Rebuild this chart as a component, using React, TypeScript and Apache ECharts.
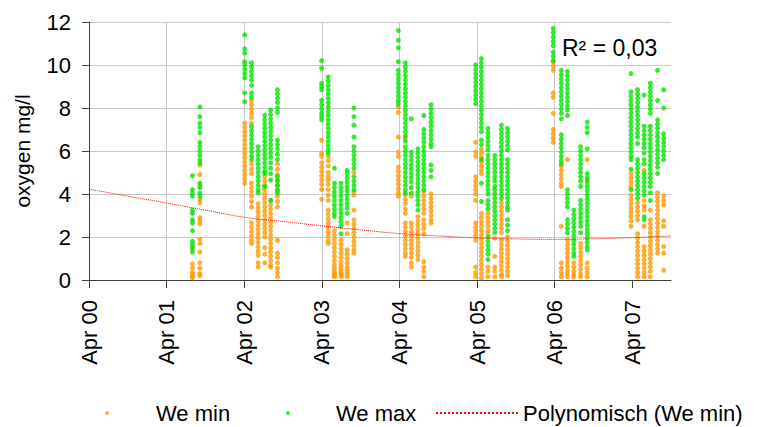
import React, { useEffect, useRef } from 'react';
import * as echarts from 'echarts';

const FONT = '"Liberation Sans", Arial, Helvetica, sans-serif';

const xTickLabels = ['Apr 00', 'Apr 01', 'Apr 02', 'Apr 03', 'Apr 04', 'Apr 05', 'Apr 06', 'Apr 07'];
const axisStartDate = '2000-04-01';
const axisEndYears = 7.5;

// sampling dates (one vertical column of measurements each)
const columnDates = [
  '2001-08-01', '2001-09-05',
  '2002-04-04', '2002-05-06', '2002-06-06', '2002-07-07', '2002-08-04', '2002-09-05',
  '2003-04-01', '2003-05-02', '2003-05-31', '2003-07-01', '2003-07-30', '2003-08-31',
  '2004-03-27', '2004-04-29', '2004-05-27', '2004-06-27', '2004-07-25', '2004-08-28',
  '2005-03-26', '2005-04-22', '2005-05-23', '2005-06-24', '2005-07-25', '2005-08-23',
  '2006-03-26', '2006-05-03', '2006-06-01', '2006-07-01', '2006-08-02', '2006-09-02',
  '2007-03-27', '2007-04-27', '2007-05-28', '2007-06-26', '2007-07-30', '2007-08-28',
];

const weMinValues = [
  [1.45, 0.75, 0.55, 0.35, 0.25, 0.15, 0.1],
  [5.35, 4.9, 4.4, 3.75, 3.6, 2.9, 2.75, 2.6, 1.9, 1.7, 1.3, 0.8, 0.55, 0.3, 0.2],
  [7.3, 7.1, 6.9, 6.7, 6.5, 6.3, 6.1, 5.9, 5.7, 5.5, 5.3, 5.1, 4.9, 4.7, 4.5],
  [8.35, 8.15, 7.95, 7.75, 7.55, 7.3, 5.4, 5.15, 4.95, 4.5, 4.3, 4.1, 3.9, 3.65, 3.4, 2.65, 2.45, 2.25, 2.05, 1.85, 1.7],
  [3.55, 3.35, 3.15, 2.95, 2.75, 2.55, 2.35, 2.15, 1.95, 1.75, 1.55, 1.35, 1.15, 0.8, 0.6],
  [4.8, 4.6, 4.4, 4.2, 4.0, 3.8, 3.6, 3.4, 3.2, 3.0, 2.8, 2.6, 2.4, 2.2, 2.0, 1.5, 1.2, 0.8],
  [3.7, 3.5, 3.3, 3.1, 2.9, 2.7, 2.5, 2.3, 2.1, 1.9, 1.7, 1.5, 1.3, 1.1, 0.9, 0.7, 0.6],
  [5.4, 5.15, 4.9, 4.65, 4.4, 4.15, 3.9, 3.65, 3.4, 1.85, 1.25, 1.05, 0.8, 0.55, 0.35, 0.15],
  [6.5, 5.9, 5.75, 5.45, 5.25, 5.05, 4.85, 4.65, 4.45, 4.2, 3.75],
  [5.75, 5.55, 5.3, 5.0, 4.8, 4.65, 4.45, 4.2, 3.95, 3.7, 3.25, 3.05, 2.85, 2.65, 2.45, 2.25, 2.05, 1.85, 1.7],
  [2.3, 2.1, 1.9, 1.7, 1.5, 1.3, 1.1, 0.9, 0.7, 0.55, 0.4, 0.3, 0.2, 0.15],
  [1.85, 1.65, 1.45, 1.25, 1.05, 0.85, 0.65, 0.5, 0.35, 0.25, 0.15],
  [2.65, 2.15, 1.4, 1.2, 1.0, 0.8, 0.6, 0.45, 0.3, 0.15],
  [5.0, 4.1, 3.95, 3.25, 2.8, 2.6, 2.4, 2.2, 2.0, 1.8, 1.6, 1.4, 1.25],
  [8.05, 7.8, 6.65, 5.95, 5.75, 5.25, 5.05, 4.85, 4.65, 4.45, 4.25, 4.05, 3.9],
  [6.6, 3.95, 3.75, 3.55, 3.3, 3.1, 2.65, 2.45, 2.25, 2.05, 1.85, 1.65, 1.45, 1.25, 1.1],
  [3.9, 2.65, 2.45, 2.25, 2.05, 1.85, 1.65, 1.45, 1.25, 1.05, 0.8, 0.6],
  [2.95, 2.75, 2.55, 2.35, 2.15, 1.95, 1.75, 1.55, 1.35, 1.15, 0.95],
  [4.1, 3.9, 3.7, 3.5, 3.3, 3.1, 2.8, 2.6, 2.4, 2.15, 0.85, 0.6, 0.4, 0.15],
  [4.0, 3.8, 3.6, 3.4, 3.2, 3.0, 2.8, 2.65],
  [6.4, 5.95, 5.75, 4.8, 4.6, 4.4, 4.2, 4.0, 3.7, 2.65, 2.45, 2.25, 2.05, 1.85, 0.6, 0.35, 0.15],
  [6.1, 5.9, 5.7, 5.5, 5.3, 5.1, 4.95, 3.1, 2.9, 2.7, 2.5, 2.3, 2.1, 1.9, 1.7, 1.5, 1.3, 1.1, 0.9, 0.7, 0.5, 0.3, 0.1],
  [3.1, 2.9, 2.7, 2.5, 2.3, 2.15, 0.6, 0.4, 0.15],
  [1.95, 1.1, 0.6, 0.4, 0.15],
  [3.6, 3.4, 3.2, 3.0, 2.8, 2.6, 2.4, 2.2, 1.85, 1.65, 1.45, 1.25, 1.05, 0.85, 0.65, 0.45, 0.25, 0.15],
  [2.0, 1.8, 1.6, 1.4, 1.2, 1.0, 0.8, 0.6, 0.4, 0.2],
  [10.15, 9.95, 9.75, 8.7, 8.5, 7.75, 7.0, 6.8, 6.6, 6.4],
  [5.3, 5.1, 4.9, 4.7, 4.5, 4.35, 2.5, 0.8, 0.55, 0.35, 0.15],
  [5.6, 1.85, 1.65, 1.45, 1.25, 1.05, 0.85, 0.65, 0.45, 0.3, 0.15],
  [0.8, 0.6, 0.4, 0.25, 0.15],
  [1.7, 1.5, 1.3, 1.1, 0.9, 0.7, 0.5, 0.3, 0.15],
  [5.6, 4.65, 0.8, 0.55, 0.35, 0.15],
  [4.95, 4.75, 4.55, 4.35, 3.95, 3.75, 3.55, 3.35, 3.15, 2.95, 2.75, 2.5],
  [3.6, 3.4, 3.2, 3.0, 2.8, 2.15, 1.95, 1.75, 1.55, 1.35, 1.15, 0.95, 0.75, 0.55, 0.35, 0.15],
  [5.1, 3.7, 3.45, 3.25, 2.5, 1.55, 1.35, 1.15, 0.95, 0.75, 0.55, 0.35, 0.15],
  [3.25, 2.8, 2.6, 2.4, 2.2, 2.0, 1.8, 1.6, 1.4, 1.2, 1.0, 0.8, 0.6, 0.4, 0.15],
  [4.05, 3.85, 3.65, 3.45, 3.25, 3.05, 2.85, 2.65, 2.45, 2.25, 2.05, 1.85, 1.65, 1.45, 1.25],
  [3.9, 3.7, 3.5, 2.75, 2.5, 1.55, 1.25, 0.45],
];

const weMaxValues = [
  [4.85, 4.2, 4.05, 3.9, 3.25, 3.1, 2.8, 2.65, 2.3, 1.8, 1.65, 1.5, 1.3],
  [8.05, 7.6, 7.3, 7.1, 6.85, 6.4, 6.2, 6.0, 5.8, 5.6, 5.45, 4.5, 4.3, 4.05, 3.9],
  [11.4, 10.75, 10.55, 10.15, 10.0, 9.8, 9.6, 9.4, 8.7, 8.3],
  [10.1, 9.9, 9.7, 9.5, 9.3, 9.05, 8.7, 8.5, 7.15, 6.95, 6.75, 6.55, 6.35, 6.15, 5.95, 5.75, 5.6],
  [6.2, 6.0, 5.8, 5.6, 5.4, 5.2, 5.0, 4.8, 4.6, 4.4, 4.2, 4.05],
  [7.65, 7.45, 7.25, 7.05, 6.85, 6.65, 6.45, 6.25, 6.05, 5.85, 5.65, 5.45, 5.25, 5.05, 4.95, 4.35],
  [7.9, 7.7, 7.5, 7.3, 7.1, 6.9, 6.7, 6.5, 6.3, 6.1, 5.9, 5.7, 5.45, 5.2, 4.95, 4.65, 3.7],
  [8.85, 8.65, 8.45, 8.25, 8.0, 7.8, 6.5, 6.3, 6.1, 5.85, 5.6, 4.8, 4.6, 4.4, 4.2, 4.05],
  [10.2, 9.85, 9.15, 9.0, 8.85, 8.35, 8.15, 7.95, 7.75, 7.6, 7.45],
  [9.45, 9.25, 9.05, 8.85, 8.65, 8.45, 8.25, 8.05, 7.85, 7.65, 7.45, 7.25, 7.05, 6.85, 6.65, 6.45, 6.25, 6.05, 5.9],
  [5.2, 4.5, 4.3, 4.1, 3.9, 3.7, 3.5, 3.3, 3.1, 2.95],
  [4.5, 4.3, 4.1, 3.9, 3.7, 3.5, 3.3, 3.1, 2.9, 2.7, 2.5, 2.15],
  [5.1, 4.95, 4.75, 4.55, 4.35, 4.15, 3.95, 3.75, 3.55, 3.35, 3.1],
  [8.0, 7.6, 7.2, 6.65, 6.2, 6.0, 5.8, 5.6, 5.4, 5.2, 4.8, 4.6, 4.4, 4.2],
  [11.6, 11.15, 10.8, 10.15, 9.75, 9.55, 9.35, 9.15, 8.95, 8.75, 8.55, 8.35, 8.2],
  [10.1, 9.9, 9.7, 9.5, 9.3, 9.1, 8.9, 8.7, 8.5, 8.3, 8.1, 7.9, 7.7, 7.5, 7.3, 7.1, 6.9, 6.7, 6.45, 6.2, 6.0, 5.8, 5.6, 5.4, 5.2, 5.0, 4.8, 4.6, 4.4, 4.2, 4.05],
  [7.5, 5.95, 5.75, 5.55, 5.35, 5.15, 4.95, 4.75, 4.55, 4.3, 4.05],
  [6.1, 5.9, 5.7, 5.5, 5.3, 5.1, 4.9, 4.7, 4.5, 4.3, 4.1, 3.9, 3.7, 3.5, 3.25],
  [7.65, 7.0, 6.8, 6.6, 6.4, 6.2, 6.0, 5.8, 5.6, 5.4, 5.2, 5.0, 4.8, 4.6, 4.4, 4.2],
  [8.15, 7.95, 7.75, 7.55, 7.35, 7.15, 6.95, 6.75, 6.55, 6.35, 6.2, 5.35, 5.1, 4.8],
  [10.0, 9.8, 9.6, 9.4, 9.2, 9.0, 8.8, 8.6, 8.4, 8.2],
  [10.3, 10.1, 9.9, 9.7, 9.5, 9.3, 9.1, 8.9, 8.7, 8.5, 8.3, 8.1, 7.9, 7.7, 7.5, 7.3, 7.1, 6.9, 6.5, 6.3, 5.6, 4.5, 3.65],
  [7.05, 6.85, 6.65, 6.45, 6.25, 6.05, 5.8, 5.6, 5.4, 5.2, 5.0, 4.8, 4.6, 4.4, 4.2, 4.0, 3.7, 3.5, 3.3, 2.0, 1.8, 1.6, 1.4, 1.2, 0.95],
  [5.8, 5.6, 5.4, 5.2, 5.0, 4.8, 4.6, 4.35, 4.2, 4.0, 3.8, 3.6, 3.4, 3.2, 3.0, 2.8, 2.6, 2.4, 2.2],
  [7.2, 7.0, 6.8, 6.6, 6.4, 6.2, 6.0, 5.8, 5.6, 5.4, 5.2, 5.0, 4.8, 4.6, 4.4, 4.2, 4.0, 3.8],
  [7.05, 6.85, 6.65, 6.45, 6.25, 6.05, 5.6, 5.4, 5.2, 5.0, 4.8, 4.6, 4.4, 4.2, 4.0, 3.8, 3.6, 3.4, 3.25, 2.8, 2.55, 2.3],
  [12.15, 11.7, 11.5, 11.3, 11.1, 10.9, 10.6, 10.4, 10.2],
  [9.75, 9.55, 9.35, 9.15, 8.95, 8.75, 8.55, 8.35, 8.15, 7.95, 7.75, 7.5, 6.75, 6.55, 6.35, 6.15, 5.95, 5.75, 5.55, 5.4],
  [9.7, 9.5, 9.3, 9.1, 8.9, 8.7, 8.5, 8.3, 8.1, 7.9, 7.65, 4.2, 4.0, 3.8, 3.6, 3.4, 2.8, 2.6, 2.4, 2.2],
  [3.25, 3.05, 2.85, 2.65, 2.45, 2.25, 2.05, 1.85, 1.65, 1.45, 1.25, 1.1],
  [6.2, 6.0, 5.8, 5.6, 5.4, 5.2, 5.0, 4.8, 4.6, 4.35, 3.7, 3.5, 3.3, 3.1, 2.9, 2.7, 2.5, 2.2],
  [7.35, 7.1, 6.85, 6.1, 4.95, 4.75, 4.55, 4.35, 4.15, 3.95, 3.75, 3.55, 3.35, 3.15, 2.95, 2.75, 2.55, 2.35, 2.15, 1.95, 1.75, 1.55, 1.4],
  [9.6, 8.75, 8.55, 8.35, 8.15, 7.95, 7.75, 7.55, 7.35, 7.15, 6.95, 6.75, 6.55, 6.35, 6.15, 5.95, 5.75, 5.6, 5.15, 4.2],
  [8.85, 8.65, 8.45, 8.25, 8.05, 7.85, 7.65, 7.45, 7.25, 7.05, 6.85, 6.65, 6.35, 5.6, 5.4, 5.2, 5.0, 4.8, 4.6, 4.4, 4.2, 4.0, 3.8],
  [8.6, 7.15, 6.95, 6.75, 6.55, 6.35, 6.15, 5.9, 5.6, 5.4, 4.95, 4.75, 4.55, 4.35, 4.15, 3.95, 2.95, 2.8],
  [9.15, 8.95, 8.75, 8.55, 8.35, 8.15, 7.95, 7.75, 7.15, 6.95, 6.75, 6.55, 6.35, 6.15, 5.95, 5.75, 5.55, 5.35, 5.15, 4.95, 4.75, 4.55, 4.35, 4.05, 3.7],
  [9.75, 8.35, 7.45, 7.25, 7.05, 6.85, 6.65, 6.45, 6.25, 6.05, 5.85, 5.65, 5.45, 5.25, 4.95],
  [8.85, 8.0, 6.8, 6.6, 6.4, 6.2, 6.0, 5.8, 5.6],
];

// polynomial trend line of "We min" (years after Apr 00)
const trendYears = [0, 0.5, 1, 1.5, 2, 2.5, 3, 3.5, 4, 4.5, 5, 5.5, 6, 6.5, 7, 7.5];
const trendValues = [4.23, 3.9, 3.58, 3.25, 2.92, 2.72, 2.52, 2.33, 2.16, 2.05, 1.96, 1.91, 1.89, 1.92, 1.97, 2.05];

const rSquaredText = 'R\u00B2 = 0,03';

const YEAR_MS = 365.25 * 86400000;
const startMs = Date.parse(axisStartDate);
const toYears = (d: string) => (Date.parse(d) - startMs) / YEAR_MS;

export default function App() {
  const ref = useRef<HTMLDivElement>(null);

  useEffect(() => {
    if (!ref.current) return;
    const chart = echarts.init(ref.current, undefined, { renderer: 'svg' });

    const minData: number[][] = [];
    const maxData: number[][] = [];
    columnDates.forEach((d, i) => {
      const x = toYears(d);
      weMinValues[i].forEach((v) => minData.push([x, v]));
      weMaxValues[i].forEach((v) => maxData.push([x, v]));
    });
    const trendData = trendYears.map((t, i) => [t, trendValues[i]]);
    const tickValues = xTickLabels.map((_, i) => i);

    const axisColor = '#404040';
    const gridColor = '#c8c8c8';
    const legendText = { fontSize: 22, color: '#000', fontFamily: FONT };

    const option: any = {
      animation: false,
      backgroundColor: '#ffffff',
      textStyle: { fontFamily: FONT },
      grid: { left: 89, right: 86, top: 22, bottom: 147, outerBoundsMode: 'none', containLabel: false },
      xAxis: {
        type: 'value',
        min: 0,
        max: axisEndYears,
        interval: 1,
        axisLine: { show: true, onZero: false, lineStyle: { color: axisColor, width: 1 } },
        axisTick: { show: true, length: 8, customValues: tickValues, lineStyle: { color: axisColor, width: 1 } },
        axisLabel: {
          customValues: tickValues,
          rotate: 90,
          margin: 20,
          fontSize: 22,
          color: '#000',
          fontFamily: FONT,
          formatter: (v: number) => {
            const i = Math.round(v);
            return Math.abs(v - i) < 1e-6 && xTickLabels[i] ? xTickLabels[i] : '';
          },
        },
        splitLine: { show: true, showMaxLine: false, lineStyle: { color: gridColor, width: 1 } },
      },
      yAxis: {
        type: 'value',
        min: 0,
        max: 12,
        interval: 2,
        name: 'oxygen mg/l',
        nameLocation: 'middle',
        nameGap: 56,
        nameTextStyle: { fontSize: 21, color: '#000', fontFamily: FONT },
        axisLine: { show: true, lineStyle: { color: axisColor, width: 1 } },
        axisTick: { show: true, length: 7, lineStyle: { color: axisColor, width: 1 } },
        axisLabel: { margin: 18, fontSize: 22, color: '#000', fontFamily: FONT },
        splitLine: { show: true, lineStyle: { color: gridColor, width: 1 } },
      },
      legend: [
        {
          data: [{ name: 'We min', icon: 'circle' }],
          left: 105,
          top: 402,
          padding: 0,
          itemWidth: 4,
          itemHeight: 4,
          textStyle: { ...legendText, padding: [0, 0, 0, 42] },
        },
        {
          data: [{ name: 'We max', icon: 'circle' }],
          left: 286,
          top: 402,
          padding: 0,
          itemWidth: 4,
          itemHeight: 4,
          textStyle: { ...legendText, padding: [0, 0, 0, 41] },
        },
        {
          data: [{ name: 'Polynomisch (We min)', itemStyle: { opacity: 0, color: 'transparent', borderWidth: 0 } }],
          left: 435,
          top: 402,
          padding: 0,
          itemWidth: 82,
          itemHeight: 10,
          itemStyle: { opacity: 0, color: 'transparent', borderWidth: 0 },
          textStyle: legendText,
        },
      ],
      series: [
        {
          name: 'We min',
          type: 'scatter',
          data: minData,
          symbol: 'circle',
          symbolSize: 5,
          itemStyle: { color: '#FF9900' },
        },
        {
          name: 'We max',
          type: 'scatter',
          data: maxData,
          symbol: 'circle',
          symbolSize: 5,
          itemStyle: { color: '#00E600' },
        },
        {
          name: 'Polynomisch (We min)',
          type: 'line',
          data: trendData,
          smooth: true,
          symbol: 'none',
          lineStyle: { color: '#FF0000', width: 1, type: 'dotted' },
          itemStyle: { color: '#FF0000' },
          z: 5,
        },
      ],
      graphic: [
        {
          type: 'rect',
          left: 557,
          top: 23,
          z: 10,
          shape: { width: 111, height: 42 },
          style: { fill: '#ffffff' },
        },
        {
          type: 'text',
          x: 562,
          y: 48,
          z: 11,
          style: {
            text: rSquaredText,
            fontSize: 23,
            fontFamily: FONT,
            fill: '#000',
            verticalAlign: 'middle',
            align: 'left',
          },
        },
      ],
    };

    chart.setOption(option);
    return () => chart.dispose();
  }, []);

  return (
    <div
      ref={ref}
      style={{ position: 'fixed', left: 0, top: 0, width: 757, height: 427, background: '#fff' }}
    />
  );
}
